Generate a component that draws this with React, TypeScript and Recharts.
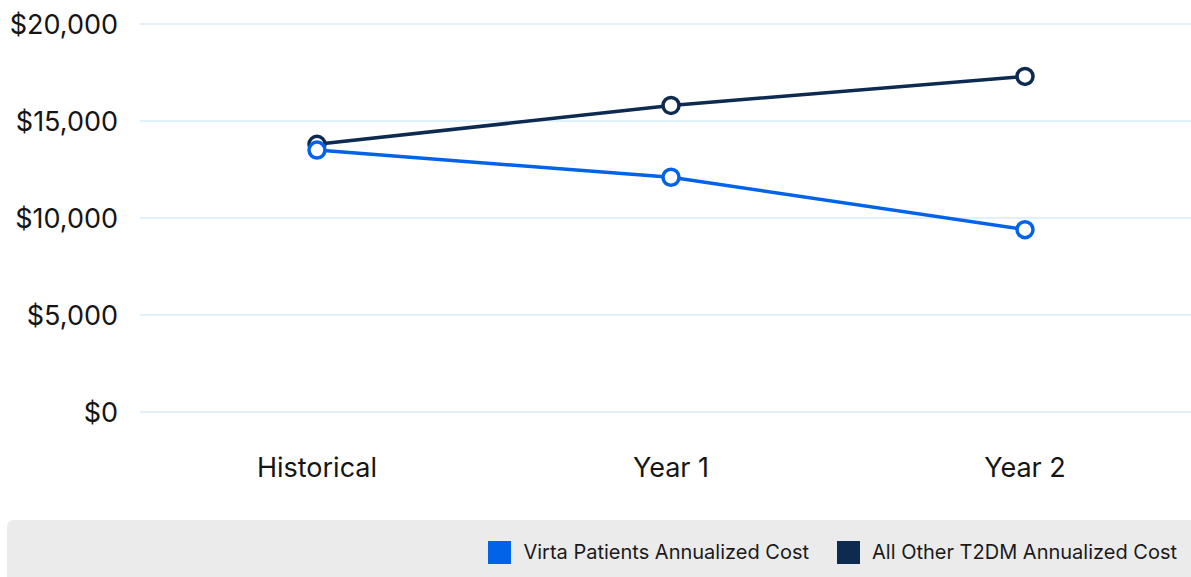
import { LineChart, Line, XAxis, YAxis, CartesianGrid } from "recharts";

const periods = ["Historical", "Year 1", "Year 2"];
const virtaCost = [13500, 12100, 9400];
const otherCost = [13800, 15800, 17300];
const yTicks = [0, 5000, 10000, 15000, 20000];

const SERIES = [
  { key: "virta", name: "Virta Patients Annualized Cost", color: "#0363e8" },
  { key: "other", name: "All Other T2DM Annualized Cost", color: "#0d2a50" },
];

const data = periods.map((p, i) => ({ period: p, virta: virtaCost[i], other: otherCost[i] }));

const FONT = "Inter, 'Noto Sans', sans-serif";

const fmt = (v: number) => "$" + v.toLocaleString("en-US");

export default function App() {
  return (
    <div
      style={{
        position: "absolute",
        left: 0,
        top: 0,
        width: 1191,
        height: 577,
        overflow: "hidden",
        background: "#fff",
        fontFamily: FONT,
      }}
    >
      <LineChart width={1202} height={500} data={data} margin={{ top: 24, right: 0, bottom: 0, left: 0 }}>
        <CartesianGrid vertical={false} stroke="#d7ecfb" strokeWidth={1.5} />
        <XAxis
          dataKey="period"
          axisLine={false}
          tickLine={false}
          height={88}
          tickMargin={40}
          padding={{ left: 177, right: 177 }}
          tick={{ fill: "#151515", fontSize: 27, fontFamily: FONT }}
        />
        <YAxis
          domain={[0, 20000]}
          ticks={yTicks}
          tickFormatter={fmt}
          axisLine={false}
          tickLine={false}
          width={140}
          tickMargin={16}
          tick={{ fill: "#151515", fontSize: 27, fontFamily: FONT }}
        />
        {[SERIES[1], SERIES[0]].map((s) => (
          <Line
            key={s.key}
            dataKey={s.key}
            name={s.name}
            stroke={s.color}
            strokeWidth={3.5}
            dot={{ r: 8, fill: "#fff", stroke: s.color, strokeWidth: 3.5 }}
            activeDot={false}
            isAnimationActive={false}
          />
        ))}
      </LineChart>
      <div
        style={{
          position: "absolute",
          left: 7,
          top: 520,
          width: 1200,
          height: 70,
          background: "#ebebeb",
          borderRadius: 7,
        }}
      >
        <div
          style={{
            position: "absolute",
            right: 30,
            top: 20,
            display: "flex",
            alignItems: "center",
            gap: 28,
          }}
        >
          {SERIES.map((s) => (
            <div key={s.key} style={{ display: "flex", alignItems: "center", gap: 12 }}>
              <div style={{ width: 23, height: 23, background: s.color }} />
              <span style={{ fontSize: 20, color: "#1a1a1a" }}>{s.name}</span>
            </div>
          ))}
        </div>
      </div>
    </div>
  );
}
